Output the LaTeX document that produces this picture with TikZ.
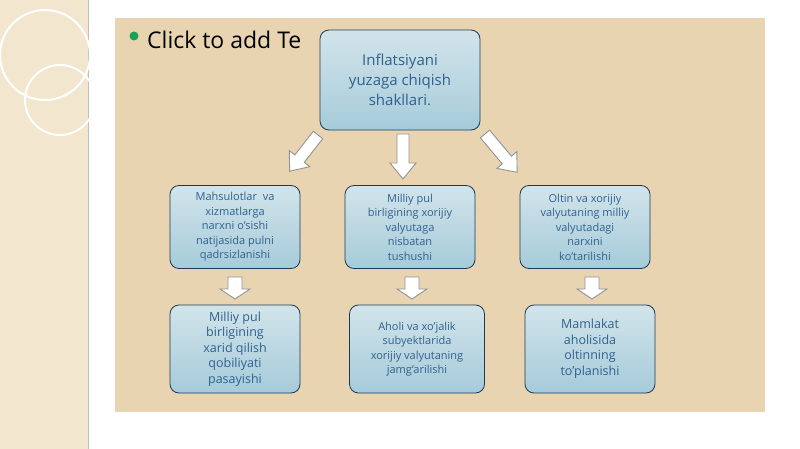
\documentclass[tikz,border=0pt]{standalone}
\usepackage{fontspec}
\setmainfont{Open Sans}
\definecolor{bg}{HTML}{E8D4B0}
\definecolor{side}{HTML}{F3E6CF}
\definecolor{boxtop}{HTML}{D2E4EA}
\definecolor{boxbot}{HTML}{A6CBDA}
\definecolor{txt}{HTML}{2F6190}
\newcommand{\blkarr}[7]{% x y angle length shaft head headlen
 \begin{scope}[shift={(#1,#2)},rotate=#3]
 \draw[gray!85,fill=white,line width=0.9pt,line join=miter]
  (0,-#5/2) -- (#4-#7,-#5/2) -- (#4-#7,-#6/2) -- (#4,0) -- (#4-#7,#6/2) -- (#4-#7,#5/2) -- (0,#5/2) -- cycle;
 \end{scope}}
\begin{document}
\begin{tikzpicture}[x=1pt,y=-1pt,
 box/.style={draw=txt!60!black,line width=0.8pt,rounded corners=9pt,top color=boxtop,bottom color=boxbot,
   text=txt,align=center,inner sep=2pt,font=\fontsize{11}{14.5}\selectfont}]
\useasboundingbox (0,0) rectangle (800,449);
\fill[white] (0,0) rectangle (800,449);
\fill[side] (0,0) rectangle (88,449);
\draw[gray!50,line width=1pt] (88,0) -- (88,449);
\draw[white,line width=2pt] (45,55) circle (45);
\draw[white,line width=2pt] (60,100) circle (35);
\fill[bg] (115,18) rectangle (765,412);
\fill[txt!60!green] (134,36) circle (4.5);
\node[anchor=west,inner sep=0pt,font=\fontsize{23}{26}\selectfont] (click) at (147,40) {Click to add Te};
\node[box,minimum width=160pt,minimum height=100pt,font=\fontsize{15}{20}\selectfont] (top) at (400,80) {Inflatsiyani\\yuzaga chiqish\\shakllari.};
\node[box,minimum width=130pt,minimum height=83pt] (m1) at (235,227) {Mahsulotlar~ va\\xizmatlarga\\narxni o'sishi\\natijasida pulni\\qadrsizlanishi};
\node[box,minimum width=130pt,minimum height=83pt] (m2) at (410,227) {Milliy pul\\birligining xorijiy\\valyutaga\\nisbatan\\tushushi};
\node[box,minimum width=130pt,minimum height=83pt] (m3) at (585,227) {Oltin va xorijiy\\valyutaning milliy\\valyutadagi\\narxini\\ko'tarilishi};
\node[box,minimum width=130pt,minimum height=88pt,font=\fontsize{12.5}{15.5}\selectfont] (b1) at (235,349) {Milliy pul\\birligining\\xarid qilish\\qobiliyati\\pasayishi};
\node[box,minimum width=135pt,minimum height=88pt] (b2) at (417,349) {Aholi va xo'jalik\\subyektlarida\\xorijiy valyutaning\\jamg'arilishi};
\node[box,minimum width=130pt,minimum height=88pt,font=\fontsize{12.5}{15.5}\selectfont] (b3) at (590,349) {Mamlakat\\aholisida\\oltinning\\to'planishi};
\blkarr{318}{135}{-128}{46}{12}{26}{16}
\blkarr{403}{134}{-90}{45}{12}{26}{16}
\blkarr{485}{134}{-50}{50}{12}{26}{16}
\blkarr{235}{277}{-90}{22}{14}{30}{10}
\blkarr{412}{277}{-90}{22}{14}{30}{10}
\blkarr{592}{277}{-90}{22}{14}{30}{10}
\end{tikzpicture}
\end{document}
